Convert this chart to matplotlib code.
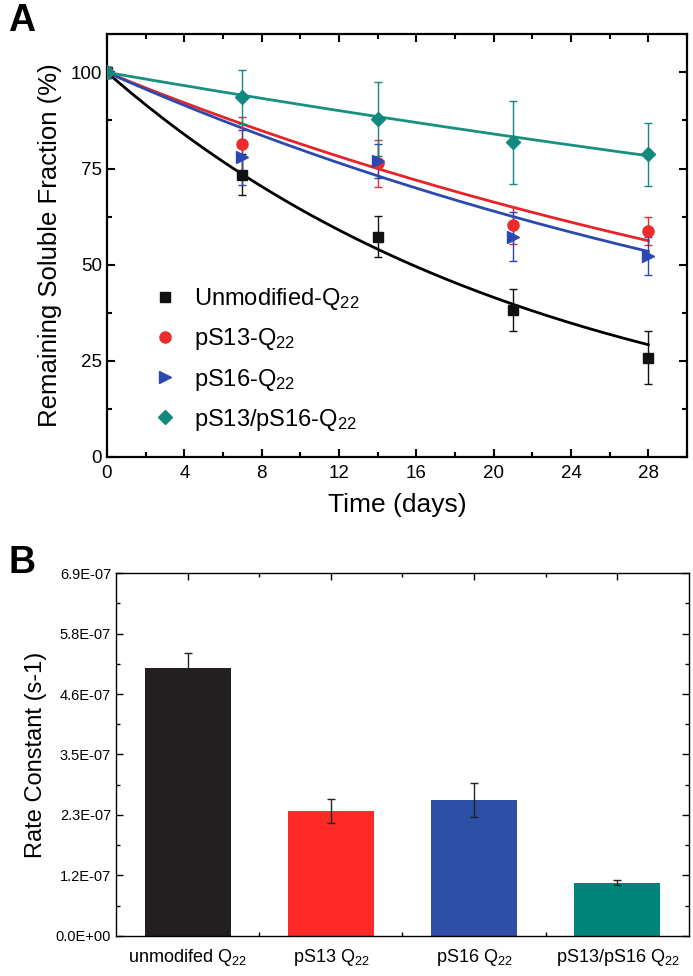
import numpy as np
import matplotlib
matplotlib.use("Agg")
import matplotlib.pyplot as plt
from matplotlib.ticker import MultipleLocator, FixedLocator

plt.rcParams['font.family'] = ['Liberation Sans', 'DejaVu Sans']
plt.rcParams['mathtext.fontset'] = 'custom'
plt.rcParams['mathtext.rm'] = 'Liberation Sans'
plt.rcParams['mathtext.it'] = 'Liberation Sans'

# ---------------- data ----------------
days = [0, 7, 14, 21, 28]
series_names = ['Unmodified-Q$_{22}$', 'pS13-Q$_{22}$', 'pS16-Q$_{22}$', 'pS13/pS16-Q$_{22}$']
unmod_vals = [100, 73.4, 57.3, 38.2, 25.8]
unmod_err = [1.5, 5.3, 5.4, 5.4, 6.9]
ps13_vals = [100, 81.4, 76.4, 60.2, 58.8]
ps13_err = [1.5, 7.1, 6.1, 4.8, 3.7]
ps16_vals = [100, 77.9, 77.0, 57.3, 52.3]
ps16_err = [1.5, 7.2, 4.5, 6.4, 5.0]
dual_vals = [100, 93.6, 87.8, 81.8, 78.7]
dual_err = [1.5, 7.1, 9.6, 10.8, 8.2]

bar_labels = ['unmodifed Q$_{22}$', 'pS13 Q$_{22}$', 'pS16 Q$_{22}$', 'pS13/pS16 Q$_{22}$']
rate_constants = [5.09e-7, 2.38e-7, 2.59e-7, 1.01e-7]
rate_err = [0.28e-7, 0.23e-7, 0.32e-7, 0.05e-7]
rate_ticks = [0, 1.15e-7, 2.3e-7, 3.45e-7, 4.6e-7, 5.75e-7, 6.9e-7]
rate_tick_labels = ['0.0E+00', '1.2E-07', '2.3E-07', '3.5E-07', '4.6E-07', '5.8E-07', '6.9E-07']

marker_colors = ['#111111', '#ee2b2b', '#2a48b0', '#12897e']
line_colors = ['#000000', '#e52328', '#2b4aae', '#17907f']
bar_colors = ['#231f20', '#fd2a27', '#2d4fa6', '#00857a']
markers = ['s', 'o', '>', 'D']
msizes = [7, 8, 8.5, 7]

fig = plt.figure(figsize=(6.93, 9.76), dpi=100)

# ---------------- panel A ----------------
ax = fig.add_axes([0.1544, 0.5318, 0.837, 0.4334])
vals_all = [unmod_vals, ps13_vals, ps16_vals, dual_vals]
errs_all = [unmod_err, ps13_err, ps16_err, dual_err]
t_fit = np.linspace(0, 28, 200)
for i in range(4):
    k = rate_constants[i]
    ax.plot(t_fit, 100 * np.exp(-k * t_fit * 86400), color=line_colors[i], lw=2.0, zorder=2)
handles = []
for i in range(4):
    ax.errorbar(days, vals_all[i], yerr=errs_all[i], fmt='none', ecolor=marker_colors[i],
                elinewidth=1.0, capsize=3, capthick=1.0, zorder=3)
    h, = ax.plot(days, vals_all[i], linestyle='none', marker=markers[i], ms=msizes[i],
                 color=marker_colors[i], mec=marker_colors[i], zorder=4, label=series_names[i])
    handles.append(h)
ax.set_xlim(0, 30)
ax.set_ylim(0, 110)
ax.set_xticks([0, 4, 8, 12, 16, 20, 24, 28])
ax.xaxis.set_minor_locator(MultipleLocator(2))
ax.yaxis.set_major_locator(FixedLocator([0, 25, 50, 75, 100]))
ax.yaxis.set_minor_locator(MultipleLocator(12.5))
ax.tick_params(which='both', direction='in', top=True, right=True, labelsize=13.5, width=1.5)
ax.tick_params(which='major', length=6)
ax.tick_params(which='minor', length=3.5)
ax.tick_params(axis='x', which='major', pad=6)
for s in ax.spines.values():
    s.set_linewidth(1.6)
ax.set_xlabel('Time (days)', fontsize=19, labelpad=8)
ax.set_ylabel('Remaining Soluble Fraction (%)', fontsize=18.5, labelpad=6)
ax.legend(handles=handles, loc='lower left', bbox_to_anchor=(0.06, 0.035), frameon=False,
          fontsize=17, handletextpad=0.6, labelspacing=0.6, handlelength=1.2, borderaxespad=0)
fig.text(0.012, 0.978, 'A', fontsize=27, fontweight='bold', va='center', ha='left')

# ---------------- panel B ----------------
bx = fig.add_axes([0.1674, 0.041, 0.8268, 0.3719])
xpos = np.arange(len(bar_labels))
bx.bar(xpos, rate_constants, width=0.6, color=bar_colors, zorder=2)
bx.errorbar(xpos, rate_constants, yerr=rate_err, fmt='none', ecolor='#222222', elinewidth=1.0,
            capsize=3, capthick=1.0, zorder=3)
bx.set_xlim(-0.5, 3.5)
bx.set_ylim(0, 6.9e-7)
bx.set_xticks(xpos)
bx.set_xticklabels(bar_labels, fontsize=13)
bx.xaxis.set_minor_locator(FixedLocator([0.5, 1.5, 2.5]))
bx.set_yticks(rate_ticks)
bx.set_yticklabels(rate_tick_labels, fontsize=10.5)
bx.yaxis.set_minor_locator(FixedLocator([(rate_ticks[j] + rate_ticks[j + 1]) / 2 for j in range(6)]))
bx.tick_params(which='both', direction='in', top=True, right=True, width=1.0)
bx.tick_params(which='major', length=5)
bx.tick_params(which='minor', length=3)
bx.tick_params(axis='x', which='major', pad=8)
for s in bx.spines.values():
    s.set_linewidth(1.0)
bx.set_ylabel('Rate Constant (s-1)', fontsize=17, labelpad=6)
fig.text(0.012, 0.423, 'B', fontsize=27, fontweight='bold', va='center', ha='left')

fig.savefig('out.png', dpi=100)
